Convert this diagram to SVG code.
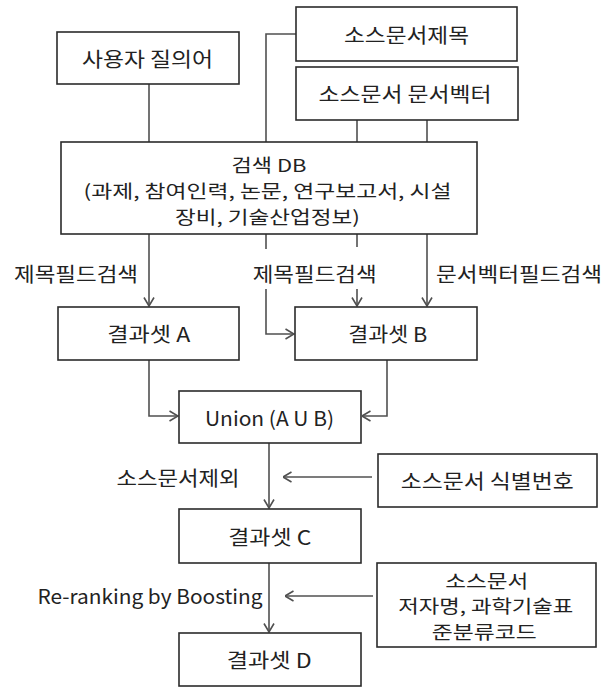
<svg xmlns="http://www.w3.org/2000/svg" width="614" height="687" viewBox="0 0 614 687">
<style>
  .box { fill: #ffffff; stroke: #2b2b2b; stroke-width: 1.6; }
  .t { font-family: "Noto Sans CJK KR", "Malgun Gothic", sans-serif; font-size: 20px; fill: #222; text-anchor: middle; dominant-baseline: central; }
  .m { font-size: 17.8px; }
  .c { fill: none; stroke: #505050; stroke-width: 1.6; }
</style>
<defs>
  <marker id="arr" viewBox="0 0 10 12" refX="9.5" refY="6" markerWidth="10" markerHeight="12" markerUnits="userSpaceOnUse" orient="auto">
    <path d="M1,1 L9.5,6 L1,11" fill="none" stroke="#505050" stroke-width="1.6"/>
  </marker>
</defs>
<rect width="614" height="687" fill="#ffffff"/>

<g id="connectors">
  <line class="c" x1="149" y1="84" x2="149" y2="142"/>
  <polyline class="c" points="296,34 266,34 266,142"/>
  <line class="c" x1="357" y1="120" x2="357" y2="142"/>
  <line class="c" x1="427" y1="120" x2="427" y2="142"/>
  <line class="c" x1="149" y1="234" x2="149" y2="306" marker-end="url(#arr)"/>
  <line class="c" x1="266" y1="234" x2="266" y2="249"/>
  <polyline class="c" points="266,289 266,334 294,334" marker-end="url(#arr)"/>
  <line class="c" x1="357" y1="234" x2="357" y2="247"/>
  <line class="c" x1="357" y1="289" x2="357" y2="306" marker-end="url(#arr)"/>
  <line class="c" x1="427" y1="234" x2="427" y2="306" marker-end="url(#arr)"/>
  <polyline class="c" points="149,360 149,416 178,416" marker-end="url(#arr)"/>
  <polyline class="c" points="387,360 387,416 362,416" marker-end="url(#arr)"/>
  <line class="c" x1="269" y1="443" x2="269" y2="508" marker-end="url(#arr)"/>
  <line class="c" x1="372" y1="477" x2="283" y2="477" marker-end="url(#arr)"/>
  <line class="c" x1="269" y1="563" x2="269" y2="632" marker-end="url(#arr)"/>
  <line class="c" x1="373" y1="596" x2="285" y2="596" marker-end="url(#arr)"/>
  <text class="t" x="76" y="273" textLength="124" lengthAdjust="spacingAndGlyphs">제목필드검색</text>
  <text class="t" x="314.7" y="273" textLength="124" lengthAdjust="spacingAndGlyphs">제목필드검색</text>
  <text class="t" x="519" y="273" textLength="166" lengthAdjust="spacingAndGlyphs">문서벡터필드검색</text>
  <text class="t" x="178" y="477" textLength="123" lengthAdjust="spacingAndGlyphs">소스문서제외</text>
  <text class="t" x="150" y="595" textLength="225" lengthAdjust="spacingAndGlyphs">Re-ranking by Boosting</text>
</g>

<g id="user-query">
  <rect class="box" x="57" y="32" width="182" height="52"/>
  <text class="t" x="147.5" y="58" textLength="131" lengthAdjust="spacingAndGlyphs">사용자 질의어</text>
</g>
<g id="source-title">
  <rect class="box" x="296" y="7" width="221" height="54"/>
  <text class="t" x="406.5" y="34" textLength="125" lengthAdjust="spacingAndGlyphs">소스문서제목</text>
</g>
<g id="source-vector">
  <rect class="box" x="296" y="67" width="222" height="53"/>
  <text class="t" x="405" y="93.5" textLength="173" lengthAdjust="spacingAndGlyphs">소스문서 문서벡터</text>
</g>
<g id="search-db">
  <rect class="box" x="61" y="142" width="416" height="92"/>
  <text class="t m" x="269" y="164" textLength="75" lengthAdjust="spacingAndGlyphs">검색 DB</text>
  <text class="t m" x="267.5" y="190.2" textLength="368" lengthAdjust="spacingAndGlyphs">(과제, 참여인력, 논문, 연구보고서, 시설</text>
  <text class="t m" x="267.5" y="216.4" textLength="185" lengthAdjust="spacingAndGlyphs">장비, 기술산업정보)</text>
</g>
<g id="result-a">
  <rect class="box" x="58" y="307" width="181" height="53"/>
  <text class="t" x="148.7" y="333.5" textLength="83" lengthAdjust="spacingAndGlyphs">결과셋 A</text>
</g>
<g id="result-b">
  <rect class="box" x="295" y="307" width="182" height="53"/>
  <text class="t" x="387.8" y="333.5" textLength="79" lengthAdjust="spacingAndGlyphs">결과셋 B</text>
</g>
<g id="union">
  <rect class="box" x="179" y="391" width="182" height="52"/>
  <text class="t" x="269.5" y="417" textLength="129" lengthAdjust="spacingAndGlyphs">Union (A U B)</text>
</g>
<g id="source-id">
  <rect class="box" x="378" y="454" width="219" height="53"/>
  <text class="t" x="487.3" y="480.5" textLength="173" lengthAdjust="spacingAndGlyphs">소스문서 식별번호</text>
</g>
<g id="result-c">
  <rect class="box" x="179" y="509" width="182" height="54"/>
  <text class="t" x="269.8" y="536" textLength="83" lengthAdjust="spacingAndGlyphs">결과셋 C</text>
</g>
<g id="source-meta">
  <rect class="box" x="377" y="563" width="219" height="84"/>
  <text class="t m" x="486.7" y="579.5" textLength="83" lengthAdjust="spacingAndGlyphs">소스문서</text>
  <text class="t m" x="485.8" y="605.3" textLength="175" lengthAdjust="spacingAndGlyphs">저자명, 과학기술표</text>
  <text class="t m" x="484.2" y="631.1" textLength="105" lengthAdjust="spacingAndGlyphs">준분류코드</text>
</g>
<g id="result-d">
  <rect class="box" x="179" y="633" width="182" height="53"/>
  <text class="t" x="269.2" y="659.5" textLength="85" lengthAdjust="spacingAndGlyphs">결과셋 D</text>
</g>
</svg>
